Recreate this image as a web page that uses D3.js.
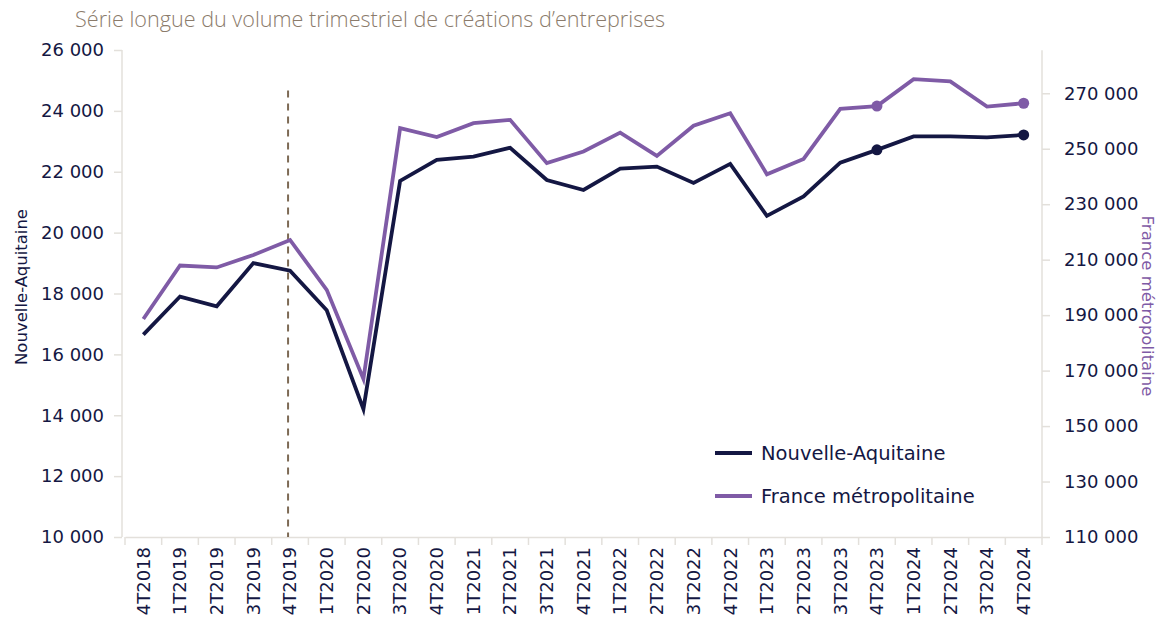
<!DOCTYPE html>
<html>
<head>
<meta charset="utf-8">
<script src="https://cdn.jsdelivr.net/npm/d3@7"></script>
<style>
  body { margin: 0; background: #fff; }
  text { font-family: "DejaVu Sans", sans-serif; }
</style>
</head>
<body>
<div id="chart"></div>
<script>
// Quarters
const quarters = ["4T2018","1T2019","2T2019","3T2019","4T2019","1T2020","2T2020","3T2020","4T2020",
  "1T2021","2T2021","3T2021","4T2021","1T2022","2T2022","3T2022","4T2022","1T2023","2T2023",
  "3T2023","4T2023","1T2024","2T2024","3T2024","4T2024"];

// Nouvelle-Aquitaine (left axis)
const naValues = [16650, 17900, 17580, 19000, 18750, 17450, 14200, 21700, 22390,
  22500, 22790, 21730, 21400, 22100, 22170, 21630, 22260, 20550, 21190,
  22300, 22720, 23160, 23160, 23130, 23210];

// France métropolitaine (right axis)
const frValues = [188600, 207900, 207200, 211700, 217100, 199100, 167000, 257400, 254200,
  259200, 260400, 244800, 249000, 255800, 247400, 258300, 262800, 240800, 246300,
  264400, 265400, 275100, 274300, 265200, 266400];

const leftTicks = [10000, 12000, 14000, 16000, 18000, 20000, 22000, 24000, 26000];
const rightTicks = [110000, 130000, 150000, 170000, 190000, 210000, 230000, 250000, 270000];
const markedQuarters = ["4T2023", "4T2024"];
const dashedQuarter = "4T2019";

const W = 1157, H = 625;
const margin = { top: 50, left: 125, right: 115, bottom: 88 };
const navy = "#141743", purple = "#7f5ba6", grid = "#e3e0db";

const svg = d3.select("#chart").append("svg")
  .attr("width", W).attr("height", H);

const x = d3.scaleBand()
  .domain(quarters)
  .range([margin.left, W - margin.right]);

const yL = d3.scaleLinear().domain([10000, 26000]).range([H - margin.bottom, margin.top]);
const yR = d3.scaleLinear().domain([110000, 285600]).range([H - margin.bottom, margin.top]);

const fmt = v => d3.format(",")(v).replace(/,/g, " ");
const cx = q => x(q) + x.bandwidth() / 2;

// Left axis
const gL = svg.append("g")
  .attr("transform", `translate(${margin.left - 3},0)`)
  .call(d3.axisLeft(yL).tickValues(leftTicks).tickFormat(fmt).tickSize(8).tickPadding(10));
gL.select(".domain").attr("stroke", grid).attr("stroke-width", 1.5).attr("d", `M0,${yL(26000)}V${yL(10000)}`);
gL.selectAll(".tick line").attr("stroke", grid).attr("stroke-width", 1.5);
gL.selectAll(".tick text").attr("fill", navy).style("font-size", "18px");

// Right axis
const gR = svg.append("g")
  .attr("transform", `translate(${W - margin.right},0)`)
  .call(d3.axisRight(yR).tickValues(rightTicks).tickFormat(fmt).tickSize(8).tickPadding(14));
gR.select(".domain").attr("stroke", grid).attr("stroke-width", 1.5).attr("d", `M0,${yR(270000) - 43}V${yR(110000)}`);
gR.selectAll(".tick line").attr("stroke", grid).attr("stroke-width", 1.5);
gR.selectAll(".tick text").attr("fill", navy).style("font-size", "18px");

// Bottom axis
const gX = svg.append("g")
  .attr("transform", `translate(0,${H - margin.bottom})`)
  .call(d3.axisBottom(x).tickSize(0));
gX.select(".domain").attr("stroke", grid).attr("stroke-width", 1.5);
gX.selectAll(".tick text")
  .attr("fill", navy)
  .style("font-size", "18px")
  .attr("text-anchor", "end")
  .attr("transform", "rotate(-90)")
  .attr("x", -10).attr("y", 0).attr("dy", "0.35em");
// category boundary ticks
svg.append("g").selectAll("line")
  .data(quarters.concat(["end"]))
  .join("line")
  .attr("x1", (d, i) => margin.left + i * x.bandwidth())
  .attr("x2", (d, i) => margin.left + i * x.bandwidth())
  .attr("y1", H - margin.bottom)
  .attr("y2", H - margin.bottom + 8)
  .attr("stroke", grid).attr("stroke-width", 1.5);

// Dashed vertical marker
svg.append("line")
  .attr("x1", cx(dashedQuarter) - 2).attr("x2", cx(dashedQuarter) - 2)
  .attr("y1", yR(271000)).attr("y2", H - margin.bottom)
  .attr("stroke", "#7d6a55").attr("stroke-width", 2)
  .attr("stroke-dasharray", "7,6");

// Lines
const lineNA = d3.line().x((d, i) => cx(quarters[i])).y(d => yL(d));
const lineFR = d3.line().x((d, i) => cx(quarters[i])).y(d => yR(d));

svg.append("path").datum(frValues)
  .attr("d", lineFR).attr("fill", "none")
  .attr("stroke", purple).attr("stroke-width", 3.8).attr("stroke-linejoin", "miter");
svg.append("path").datum(naValues)
  .attr("d", lineNA).attr("fill", "none")
  .attr("stroke", navy).attr("stroke-width", 3.8).attr("stroke-linejoin", "miter");

// Markers
markedQuarters.forEach(q => {
  const i = quarters.indexOf(q);
  svg.append("circle").attr("cx", cx(q)).attr("cy", yR(frValues[i])).attr("r", 5.5).attr("fill", purple);
  svg.append("circle").attr("cx", cx(q)).attr("cy", yL(naValues[i])).attr("r", 5.5).attr("fill", navy);
});

// Title
svg.append("text")
  .attr("x", 75).attr("y", 27)
  .attr("fill", "#8b7b6b")
  .style("font-family", "'Open Sans', sans-serif")
  .style("font-weight", 300)
  .style("font-size", "21.6px")
  .text("Série longue du volume trimestriel de créations d’entreprises");

// Axis titles
svg.append("text")
  .attr("transform", `translate(27,287) rotate(-90)`)
  .attr("text-anchor", "middle")
  .attr("fill", navy)
  .style("font-size", "16.5px")
  .text("Nouvelle-Aquitaine");

svg.append("text")
  .attr("transform", `translate(1142,306) rotate(90)`)
  .attr("text-anchor", "middle")
  .attr("fill", purple)
  .style("font-size", "16.5px")
  .text("France métropolitaine");

// Legend
const legend = [
  { name: "Nouvelle-Aquitaine", color: navy },
  { name: "France métropolitaine", color: purple }
];
const lg = svg.append("g").attr("transform", "translate(715,453)");
legend.forEach((d, i) => {
  lg.append("line").attr("x1", 0).attr("x2", 37).attr("y1", i * 43).attr("y2", i * 43)
    .attr("stroke", d.color).attr("stroke-width", 3.8);
  lg.append("text").attr("x", 46).attr("y", i * 43).attr("dy", "0.35em")
    .attr("fill", navy).style("font-size", "19.5px").text(d.name);
});
</script>
</body>
</html>
